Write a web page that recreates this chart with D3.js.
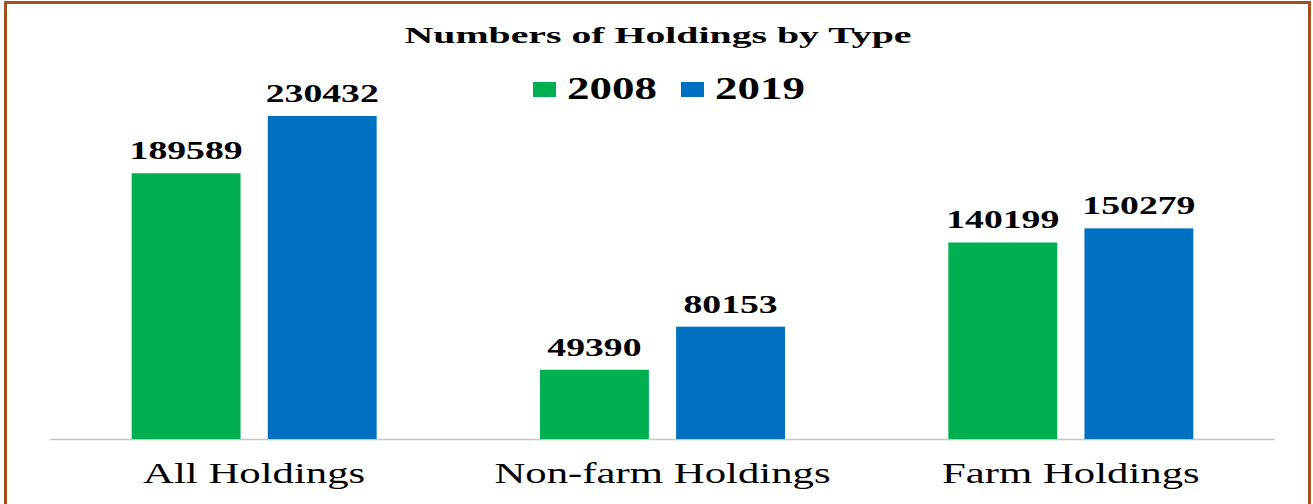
<!DOCTYPE html>
<html>
<head>
<meta charset="utf-8">
<script src="https://cdn.jsdelivr.net/npm/d3@7"></script>
<style>
  body { margin: 0; background: #fff; }
  svg { display: block; }
</style>
</head>
<body>
<div id="chart"></div>
<script>
const categories = ["All Holdings", "Non-farm Holdings", "Farm Holdings"];
const years = ["2008", "2019"];
const values2008 = [189589, 49390, 140199];
const values2019 = [230432, 80153, 150279];

const size = { width: 1313, height: 504 };
const margin = { top: 116, bottom: 65, left: 50, right: 38 };
const colors = { "2008": "#00b050", "2019": "#0070c0" };
const sx = 1.45; // the source picture is stretched sideways
const font = "'Liberation Serif', 'Times New Roman', serif";

const data = categories.map((c, i) => ({
  cat: c,
  vals: [
    { year: "2008", v: values2008[i] },
    { year: "2019", v: values2019[i] },
  ],
}));

const svg = d3
  .select("#chart")
  .append("svg")
  .attr("width", size.width)
  .attr("height", size.height);

// frame
svg
  .append("rect")
  .attr("x", 5.5)
  .attr("y", 2.5)
  .attr("width", 1304)
  .attr("height", 505)
  .attr("fill", "none")
  .attr("stroke", "#a0521e")
  .attr("stroke-width", 3);

const x0 = d3
  .scaleBand()
  .domain(categories)
  .range([margin.left, size.width - margin.right]);

const x1 = d3
  .scaleBand()
  .domain(years)
  .range([0, x0.bandwidth()])
  .paddingInner(0.2)
  .paddingOuter(0.6);

const y = d3
  .scaleLinear()
  .domain([0, d3.max(values2019)])
  .range([size.height - margin.bottom, margin.top]);

// helper: place stretched text
const stretchText = (g, txt, x, yy, opts) => {
  return g
    .append("text")
    .text(txt)
    .attr("transform", `translate(${x},${yy}) scale(${opts.sx || sx},1)`)
    .attr("text-anchor", opts.anchor || "middle")
    .style("font-family", font)
    .style("font-size", opts.size + "px")
    .style("font-weight", opts.bold ? "bold" : "normal")
    .attr("fill", "#000");
};

// axis line
svg
  .append("line")
  .attr("x1", margin.left)
  .attr("x2", size.width - margin.right)
  .attr("y1", y(0) + 0.5)
  .attr("y2", y(0) + 0.5)
  .attr("stroke", "#c6c6c6")
  .attr("stroke-width", 1.5);

const groups = svg
  .selectAll(".grp")
  .data(data)
  .join("g")
  .attr("class", "grp")
  .attr("transform", (d) => `translate(${x0(d.cat)},0)`);

groups
  .selectAll("rect")
  .data((d) => d.vals)
  .join("rect")
  .attr("x", (d) => x1(d.year))
  .attr("width", x1.bandwidth())
  .attr("y", (d) => y(d.v))
  .attr("height", (d) => y(0) - y(d.v))
  .attr("fill", (d) => colors[d.year]);

groups.each(function (d) {
  const g = d3.select(this);
  d.vals.forEach((p) => {
    stretchText(g, p.v, x1(p.year) + x1.bandwidth() / 2, y(p.v) - 14, {
      size: 26,
      bold: true,
    });
  });
  stretchText(g, d.cat, x0.bandwidth() / 2, 483, { size: 29.5 });
});

// title
stretchText(svg, "Numbers of Holdings by Type", 658, 43, { size: 23, bold: true, sx: 1.73 });

// legend
const legend = svg.append("g");
const legendX = [533, 681];
years.forEach((yr, i) => {
  legend
    .append("rect")
    .attr("x", legendX[i])
    .attr("y", 82)
    .attr("width", 23)
    .attr("height", 15)
    .attr("fill", colors[yr]);
  stretchText(legend, yr, legendX[i] + 34, 99, { size: 31, bold: true, anchor: "start" });
});
</script>
</body>
</html>
